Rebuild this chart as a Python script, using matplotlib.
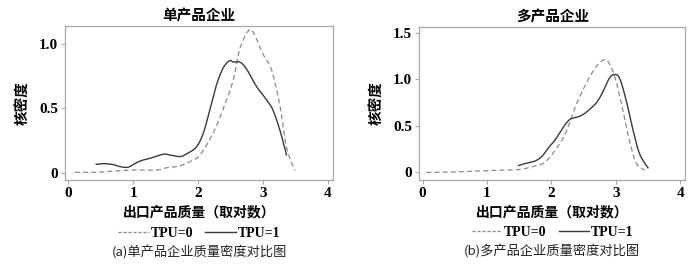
import numpy as np
import matplotlib
matplotlib.use("Agg")
import matplotlib.pyplot as plt
from matplotlib.lines import Line2D

# =========================
# DATA
# =========================

panel_titles = ["单产品企业", "多产品企业"]
captions = ["(a)单产品企业质量密度对比图", "(b)多产品企业质量密度对比图"]
series_labels = ["TPU=0", "TPU=1"]

# single-product firms
single_x0 = [0.10, 0.40, 0.70, 1.00, 1.36, 1.51, 1.72, 1.92, 2.03, 2.23, 2.38,
             2.54, 2.64, 2.77, 2.85, 3.00, 3.13, 3.26, 3.36, 3.49]
single_y0 = [0.005, 0.005, 0.015, 0.023, 0.023, 0.040, 0.055, 0.100, 0.140, 0.310,
             0.490, 0.720, 0.960, 1.100, 1.090, 0.920, 0.800, 0.520, 0.200, 0.020]
single_x1 = [0.43, 0.54, 0.69, 0.79, 0.92, 1.05, 1.15, 1.26, 1.46, 1.56, 1.72,
             1.82, 1.97, 2.08, 2.18, 2.28, 2.38, 2.48, 2.54, 2.64, 2.74, 2.90,
             3.05, 3.15, 3.26, 3.36]
single_y1 = [0.067, 0.073, 0.065, 0.050, 0.045, 0.080, 0.100, 0.114, 0.145, 0.140,
             0.127, 0.148, 0.200, 0.310, 0.490, 0.680, 0.810, 0.870, 0.860, 0.860,
             0.810, 0.670, 0.570, 0.490, 0.330, 0.140]

# multi-product firms
multi_x0 = [0.06, 0.50, 1.00, 1.48, 1.74, 1.90, 2.06, 2.22, 2.37, 2.53, 2.69,
            2.82, 2.90, 3.00, 3.11, 3.21, 3.32, 3.45]
multi_y0 = [0.000, 0.005, 0.020, 0.030, 0.070, 0.110, 0.240, 0.420, 0.700, 0.940,
            1.130, 1.210, 1.170, 0.990, 0.670, 0.350, 0.100, 0.025]
multi_x1 = [1.49, 1.59, 1.74, 1.85, 1.95, 2.06, 2.19, 2.29, 2.43, 2.53, 2.69,
            2.79, 2.90, 2.98, 3.06, 3.16, 3.27, 3.37, 3.50]
multi_y1 = [0.075, 0.096, 0.120, 0.170, 0.260, 0.350, 0.490, 0.570, 0.600, 0.640,
            0.740, 0.850, 1.010, 1.050, 1.010, 0.780, 0.450, 0.200, 0.050]

x_ticks = [0, 1, 2, 3, 4]
y_ticks_single = [0, 0.5, 1.0]
y_ticks_multi = [0, 0.5, 1.0, 1.5]
y_tick_labels_single = ["0", "0.5", "1.0"]
y_tick_labels_multi = ["0", "0.5", "1.0", "1.5"]


def smooth(x, y):
    # Catmull-Rom curve through the read points
    x = np.asarray(x, float)
    y = np.asarray(y, float)
    xs, ys = [], []
    for i in range(len(x) - 1):
        p0 = i - 1 if i > 0 else i
        p3 = i + 2 if i + 2 < len(x) else i + 1
        t = np.linspace(0, 1, 20, endpoint=False)
        for arr, out in ((x, xs), (y, ys)):
            P0, P1, P2, P3 = arr[p0], arr[i], arr[i + 1], arr[p3]
            out.append(0.5 * ((2 * P1) + (-P0 + P2) * t
                              + (2 * P0 - 5 * P1 + 4 * P2 - P3) * t ** 2
                              + (-P0 + 3 * P1 - 3 * P2 + P3) * t ** 3))
    xs.append([x[-1]])
    ys.append([y[-1]])
    return np.concatenate(xs), np.concatenate(ys)


# =========================
# STYLE
# =========================

CJK = ["Noto Sans CJK SC", "DejaVu Sans"]
NUM = "Liberation Serif"
DASH_COLOR = "#8a8a8a"
SOLID_COLOR = "#3a3a3a"
SPINE_COLOR = "#a8a8a8"

fig = plt.figure(figsize=(7, 2.65), dpi=100)

panels = [
    dict(rect=[0.093, 0.321, 0.383, 0.581], title=panel_titles[0],
         x0=single_x0, y0=single_y0, x1=single_x1, y1=single_y1,
         yticks=y_ticks_single, ylabels=y_tick_labels_single,
         ylim=(-0.054, 1.14), caption=captions[0]),
    dict(rect=[0.599, 0.321, 0.380, 0.577], title=panel_titles[1],
         x0=multi_x0, y0=multi_y0, x1=multi_x1, y1=multi_y1,
         yticks=y_ticks_multi, ylabels=y_tick_labels_multi,
         ylim=(-0.08, 1.56), caption=captions[1]),
]

for p in panels:
    ax = fig.add_axes(p["rect"])
    sx, sy = smooth(p["x0"], p["y0"])
    ax.plot(sx, sy, color=DASH_COLOR, lw=0.9, dashes=(4, 2.5))
    sx, sy = smooth(p["x1"], p["y1"])
    ax.plot(sx, sy, color=SOLID_COLOR, lw=1.0)

    ax.set_xlim(-0.05, 4.08)
    ax.set_ylim(*p["ylim"])
    ax.set_xticks(x_ticks)
    ax.set_xticklabels([str(t) for t in x_ticks], family=NUM,
                       fontweight="bold", fontsize=11)
    ax.set_yticks(p["yticks"])
    ax.set_yticklabels(p["ylabels"], family=NUM, fontweight="bold", fontsize=11)
    ax.tick_params(direction="out", length=3, width=0.8, color=SPINE_COLOR,
                   pad=2)
    for s in ax.spines.values():
        s.set_color(SPINE_COLOR)
        s.set_linewidth(0.9)

    ax.set_title(p["title"], family=CJK, fontweight="bold", fontsize=10.5,
                 pad=4)
    ax.set_ylabel("核密度", family=CJK, fontweight="bold", fontsize=10.5,
                  labelpad=6)
    ax.set_xlabel("出口产品质量（取对数）", family=CJK, fontweight="bold",
                  fontsize=10, labelpad=4)

    handles = [Line2D([], [], color=DASH_COLOR, lw=0.9, dashes=(2.5, 1.5)),
               Line2D([], [], color=SOLID_COLOR, lw=1.0)]
    ax.legend(handles, series_labels, loc="center",
              bbox_to_anchor=(0.5, -0.345), ncol=2, frameon=False,
              prop=dict(family=NUM, weight="bold", size=10),
              handlelength=2.2, handletextpad=0.1, columnspacing=0.9,
              borderpad=0, borderaxespad=0)

    ax.text(0.5, -0.47, p["caption"], transform=ax.transAxes, ha="center",
            va="center", family=CJK, fontsize=9.5, color="#222222")

fig.savefig("out.png", dpi=100)
